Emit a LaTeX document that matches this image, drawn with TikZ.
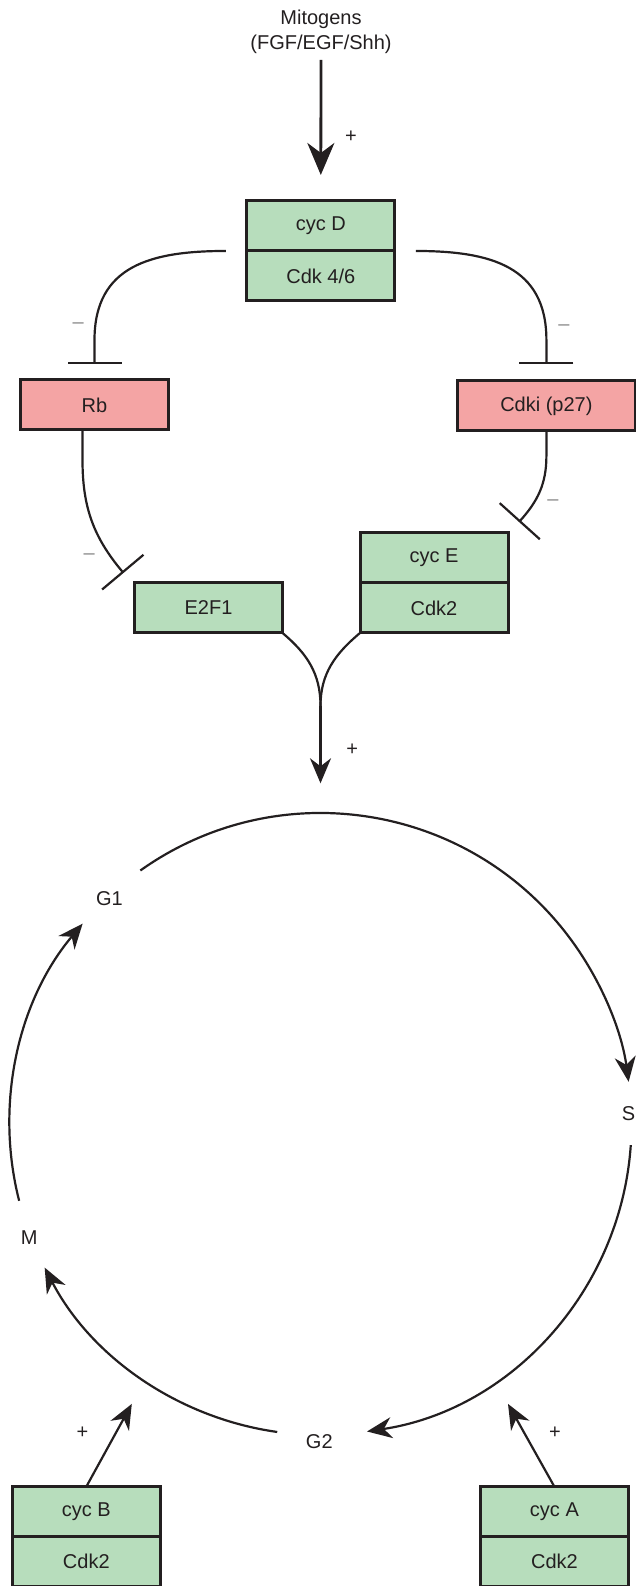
\documentclass[tikz,border=0pt]{standalone}
\usepackage{fontspec}
\setmainfont{Liberation Sans}
\usepackage{tikz}
\usetikzlibrary{positioning,arrows.meta}
\definecolor{boxline}{HTML}{231F20}
\definecolor{actfill}{HTML}{B7DDBC}
\definecolor{inhfill}{HTML}{F4A4A4}
\definecolor{signgray}{HTML}{8C8C8C}
\tikzstyle{activator}=[rectangle, draw=boxline, fill=actfill, line width=3pt, minimum width=148pt, minimum height=50pt, inner sep=0pt, outer sep=0pt, text=boxline, font=\fontsize{20}{24}\selectfont]
\tikzstyle{inhibitor}=[activator, fill=inhfill]
\tikzstyle{phase}=[text=boxline, inner sep=0pt, font=\fontsize{20}{24}\selectfont]
\tikzstyle{signPlus}=[text=boxline, inner sep=0pt, font=\fontsize{20}{22}\selectfont]
\tikzstyle{signMinus}=[text=signgray, inner sep=0pt, font=\fontsize{20}{22}\selectfont]
\tikzstyle{link}=[draw=boxline, line width=2.2pt]
\tikzstyle{block}=[link, -{Bar[width=54pt]}]
\tikzset{>={Stealth[length=25pt, width=21pt, inset=8pt]}}

\begin{document}
\begin{tikzpicture}[x=1pt, y=1pt]
        \useasboundingbox (0,0) rectangle (636,1586);

        \node (mitogens) [phase, align=center, font=\fontsize{20}{25}\selectfont] at (321,1554) {Mitogens\\(FGF/EGF/Shh)};

        \node (cycD) [activator] at (320.8,1360) {cyc D};
        \node (cdkD) [activator, below=0pt of cycD] {Cdk 4/6};

        \node (rb) [inhibitor] at (94.5,1181) {Rb};
        \node (cdki) [inhibitor, minimum width=178pt] at (546.4,1180) {Cdki (p27)};

        \node (cycE) [activator] at (434,1028) {cyc E};
        \node (cdkE) [activator, below=0pt of cycE] {Cdk2};
        \node (e2fOne) [activator, left=77.5pt of cdkE] {E2F1};

        \node (cycB) [activator] at (86.3,74.3) {cyc B};
        \node (cdkB) [activator, below=0pt of cycB] {Cdk2};
        \node (cycA) [activator] at (554.4,74.3) {cyc A};
        \node (cdkA) [activator, below=0pt of cycA] {Cdk2};

        \coordinate (hub) at (320.5,462);
        \node (phaseG1) [phase] at (109.5,687.7) {G1};
        \node (phaseS) [phase] at (628.5,472) {S};
        \node (phaseG2) [phase] at (319.3,143.9) {G2};
        \node (phaseM) [phase] at (29.2,348.6) {M};

        \draw [link, line width=2.8pt, shorten <=6pt, -{Stealth[length=32pt, width=27pt, inset=10pt]}] (mitogens.south) -- ([yshift=26pt]cycD.north);

        \draw [block] ([xshift=-21pt]cdkD.north west) to[out=180, in=90, looseness=1.2] ([yshift=40pt]rb.north) -- ([yshift=16pt]rb.north);
        \draw [block] ([xshift=21pt]cdkD.north east) to[out=0, in=90, looseness=1.2] ([yshift=41pt]cdki.north) -- ([yshift=17pt]cdki.north);

        \draw [block] ([xshift=-12pt]rb.south) -- ++(0,-30) to[out=-90, in=130] ([shift={(-11pt,10pt)}]e2fOne.north west);
        \draw [block] (cdki.south) -- ++(0,-25) to[out=-90, in=48] ([shift={(11pt,11pt)}]cycE.north east);

        \coordinate (join) at (320.5,880);
        \coordinate (entry) at (320.5,802.7);
        \draw [link] (e2fOne.south east) to[out=-40, in=90] (join);
        \draw [link] (cdkE.south west) to[out=-140, in=90] (join);
        \draw [link, ->] (join) -- (entry);

        \draw [link, ->] ([shift={(125.4:311pt)}]hub) arc[start angle=125.4, end angle=7.8, radius=311pt];
        \draw [link, ->] ([shift={(-3.9:311pt)}]hub) arc[start angle=-3.9, end angle=-81.4, radius=311pt];
        \draw [link, ->] ([shift={(262:311pt)}]hub) arc[start angle=262, end angle=207.5, radius=311pt];
        \draw [link, ->] ([shift={(194.3:311pt)}]hub) arc[start angle=194.3, end angle=139.9, radius=311pt];

        \coordinate (hitM) at (131.8,182.1);
        \coordinate (hitS) at (508,182.1);
        \draw [link, ->] (cycB.north) -- (hitM);
        \draw [link, ->] (cycA.north) -- (hitS);

        \foreach \px/\py [count=\i] in {351/1449.3, 352.3/836, 82.4/153.1, 555/153.1}{
            \node (plus\i) [signPlus] at (\px,\py) {+};
        };
        \foreach \px/\py [count=\i] in {78.3/1260, 564/1258.3, 89.2/1029, 553/1083.3}{
            \node (minus\i) [signMinus] at (\px,\py) {–};
        };

\end{tikzpicture}
\end{document}
